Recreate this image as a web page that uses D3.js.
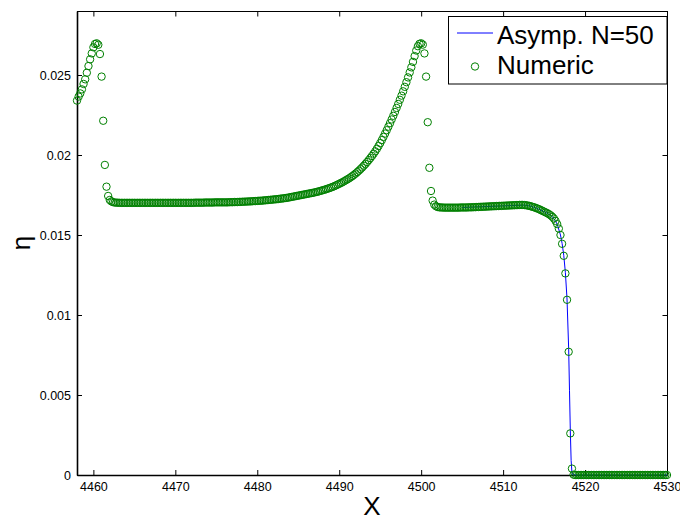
<!DOCTYPE html>
<html>
<head>
<meta charset="utf-8">
<script src="https://cdn.jsdelivr.net/npm/d3@7"></script>
<style>
  html, body { margin: 0; padding: 0; background: #fff; }
  svg { display: block; font-family: "Liberation Sans", Arial, Helvetica, sans-serif; }
</style>
</head>
<body>
<svg id="chart" width="680" height="522"></svg>
<script>
// ---------------- data ----------------
const xTicks = [4460, 4470, 4480, 4490, 4500, 4510, 4520, 4530];
const yTicks = [0, 0.005, 0.01, 0.015, 0.02, 0.025];
const yTickLabels = ["0", "0.005", "0.01", "0.015", "0.02", "0.025"];
const seriesNames = ["Asymp. N=50", "Numeric"];

// Numeric solution (circles)
const numX = [
  4458, 4458.2, 4458.4, 4458.6, 4458.8, 4459, 4459.2, 4459.4, 4459.6, 4459.8,
  4460, 4460.2, 4460.4, 4460.6, 4460.8, 4461, 4461.2, 4461.4, 4461.6, 4461.8,
  4462, 4462.2, 4462.4, 4462.6, 4462.8, 4463, 4463.2, 4463.4, 4463.6, 4463.8,
  4464, 4464.2, 4464.4, 4464.6, 4464.8, 4465, 4465.2, 4465.4, 4465.6, 4465.8,
  4466, 4466.2, 4466.4, 4466.6, 4466.8, 4467, 4467.2, 4467.4, 4467.6, 4467.8,
  4468, 4468.2, 4468.4, 4468.6, 4468.8, 4469, 4469.2, 4469.4, 4469.6, 4469.8,
  4470, 4470.2, 4470.4, 4470.6, 4470.8, 4471, 4471.2, 4471.4, 4471.6, 4471.8,
  4472, 4472.2, 4472.4, 4472.6, 4472.8, 4473, 4473.2, 4473.4, 4473.6, 4473.8,
  4474, 4474.2, 4474.4, 4474.6, 4474.8, 4475, 4475.2, 4475.4, 4475.6, 4475.8,
  4476, 4476.2, 4476.4, 4476.6, 4476.8, 4477, 4477.2, 4477.4, 4477.6, 4477.8,
  4478, 4478.2, 4478.4, 4478.6, 4478.8, 4479, 4479.2, 4479.4, 4479.6, 4479.8,
  4480, 4480.2, 4480.4, 4480.6, 4480.8, 4481, 4481.2, 4481.4, 4481.6, 4481.8,
  4482, 4482.2, 4482.4, 4482.6, 4482.8, 4483, 4483.2, 4483.4, 4483.6, 4483.8,
  4484, 4484.2, 4484.4, 4484.6, 4484.8, 4485, 4485.2, 4485.4, 4485.6, 4485.8,
  4486, 4486.2, 4486.4, 4486.6, 4486.8, 4487, 4487.2, 4487.4, 4487.6, 4487.8,
  4488, 4488.2, 4488.4, 4488.6, 4488.8, 4489, 4489.2, 4489.4, 4489.6, 4489.8,
  4490, 4490.2, 4490.4, 4490.6, 4490.8, 4491, 4491.2, 4491.4, 4491.6, 4491.8,
  4492, 4492.2, 4492.4, 4492.6, 4492.8, 4493, 4493.2, 4493.4, 4493.6, 4493.8,
  4494, 4494.2, 4494.4, 4494.6, 4494.8, 4495, 4495.2, 4495.4, 4495.6, 4495.8,
  4496, 4496.2, 4496.4, 4496.6, 4496.8, 4497, 4497.2, 4497.4, 4497.6, 4497.8,
  4498, 4498.2, 4498.4, 4498.6, 4498.8, 4499, 4499.2, 4499.4, 4499.6, 4499.8,
  4500, 4500.2, 4500.4, 4500.6, 4500.8, 4501, 4501.2, 4501.4, 4501.6, 4501.8,
  4502, 4502.2, 4502.4, 4502.6, 4502.8, 4503, 4503.2, 4503.4, 4503.6, 4503.8,
  4504, 4504.2, 4504.4, 4504.6, 4504.8, 4505, 4505.2, 4505.4, 4505.6, 4505.8,
  4506, 4506.2, 4506.4, 4506.6, 4506.8, 4507, 4507.2, 4507.4, 4507.6, 4507.8,
  4508, 4508.2, 4508.4, 4508.6, 4508.8, 4509, 4509.2, 4509.4, 4509.6, 4509.8,
  4510, 4510.2, 4510.4, 4510.6, 4510.8, 4511, 4511.2, 4511.4, 4511.6, 4511.8,
  4512, 4512.2, 4512.4, 4512.6, 4512.8, 4513, 4513.2, 4513.4, 4513.6, 4513.8,
  4514, 4514.2, 4514.4, 4514.6, 4514.8, 4515, 4515.2, 4515.4, 4515.6, 4515.8,
  4516, 4516.2, 4516.4, 4516.6, 4516.8, 4517, 4517.2, 4517.4, 4517.6, 4517.8,
  4518, 4518.2, 4518.4, 4518.6, 4518.8, 4519, 4519.2, 4519.4, 4519.6, 4519.8,
  4520, 4520.2, 4520.4, 4520.6, 4520.8, 4521, 4521.2, 4521.4, 4521.6, 4521.8,
  4522, 4522.2, 4522.4, 4522.6, 4522.8, 4523, 4523.2, 4523.4, 4523.6, 4523.8,
  4524, 4524.2, 4524.4, 4524.6, 4524.8, 4525, 4525.2, 4525.4, 4525.6, 4525.8,
  4526, 4526.2, 4526.4, 4526.6, 4526.8, 4527, 4527.2, 4527.4, 4527.6, 4527.8,
  4528, 4528.2, 4528.4, 4528.6, 4528.8, 4529, 4529.2, 4529.4, 4529.6, 4529.8,
  4530
];
const numEta = [
  0.02340, 0.02365, 0.02385, 0.02410, 0.02444, 0.02473, 0.02514, 0.02556, 0.02598, 0.02635,
  0.02673, 0.02694, 0.02698, 0.02689, 0.02631, 0.02490, 0.02214, 0.01938, 0.01802, 0.01744,
  0.01719, 0.01710, 0.01705, 0.01703, 0.01702, 0.01702, 0.01701, 0.01701, 0.01701, 0.01701,
  0.01701, 0.01701, 0.01701, 0.01701, 0.01701, 0.01701, 0.01701, 0.01701, 0.01701, 0.01701,
  0.01701, 0.01701, 0.01701, 0.01701, 0.01701, 0.01701, 0.01701, 0.01701, 0.01701, 0.01701,
  0.01701, 0.01701, 0.01701, 0.01701, 0.01701, 0.01701, 0.01701, 0.01701, 0.01701, 0.01701,
  0.01701, 0.01701, 0.01701, 0.01701, 0.01701, 0.01701, 0.01701, 0.01701, 0.01701, 0.01701,
  0.01701, 0.01701, 0.01702, 0.01702, 0.01702, 0.01702, 0.01702, 0.01702, 0.01703, 0.01703,
  0.01703, 0.01703, 0.01703, 0.01703, 0.01704, 0.01704, 0.01704, 0.01704, 0.01704, 0.01704,
  0.01704, 0.01704, 0.01704, 0.01705, 0.01705, 0.01705, 0.01706, 0.01706, 0.01706, 0.01707,
  0.01707, 0.01708, 0.01708, 0.01709, 0.01709, 0.01710, 0.01710, 0.01711, 0.01712, 0.01712,
  0.01713, 0.01714, 0.01714, 0.01715, 0.01716, 0.01717, 0.01718, 0.01719, 0.01720, 0.01721,
  0.01722, 0.01723, 0.01724, 0.01725, 0.01727, 0.01728, 0.01729, 0.01731, 0.01732, 0.01734,
  0.01736, 0.01738, 0.01740, 0.01742, 0.01744, 0.01746, 0.01748, 0.01750, 0.01752, 0.01754,
  0.01756, 0.01758, 0.01760, 0.01762, 0.01764, 0.01766, 0.01769, 0.01771, 0.01774, 0.01777,
  0.01780, 0.01783, 0.01786, 0.01790, 0.01793, 0.01797, 0.01801, 0.01805, 0.01810, 0.01815,
  0.01820, 0.01825, 0.01830, 0.01836, 0.01842, 0.01848, 0.01854, 0.01861, 0.01868, 0.01876,
  0.01884, 0.01893, 0.01902, 0.01912, 0.01922, 0.01933, 0.01944, 0.01956, 0.01968, 0.01981,
  0.01994, 0.02008, 0.02023, 0.02039, 0.02056, 0.02074, 0.02093, 0.02113, 0.02134, 0.02155,
  0.02177, 0.02199, 0.02222, 0.02245, 0.02269, 0.02294, 0.02319, 0.02345, 0.02371, 0.02398,
  0.02426, 0.02455, 0.02485, 0.02516, 0.02548, 0.02582, 0.02618, 0.02653, 0.02680, 0.02695,
  0.02698, 0.02690, 0.02635, 0.02490, 0.02205, 0.01920, 0.01775, 0.01715, 0.01690, 0.01680,
  0.01675, 0.01673, 0.01672, 0.01672, 0.01671, 0.01671, 0.01671, 0.01671, 0.01671, 0.01671,
  0.01671, 0.01671, 0.01671, 0.01671, 0.01672, 0.01672, 0.01672, 0.01672, 0.01672, 0.01673,
  0.01673, 0.01673, 0.01674, 0.01674, 0.01675, 0.01675, 0.01676, 0.01676, 0.01677, 0.01677,
  0.01678, 0.01678, 0.01679, 0.01679, 0.01680, 0.01680, 0.01681, 0.01681, 0.01682, 0.01682,
  0.01683, 0.01683, 0.01684, 0.01684, 0.01685, 0.01685, 0.01686, 0.01686, 0.01687, 0.01687,
  0.01688, 0.01688, 0.01688, 0.01687, 0.01686, 0.01684, 0.01682, 0.01679, 0.01676, 0.01673,
  0.01669, 0.01665, 0.01661, 0.01656, 0.01651, 0.01646, 0.01641, 0.01636, 0.01630, 0.01623,
  0.01614, 0.01603, 0.01588, 0.01568, 0.01540, 0.01500, 0.01445, 0.01370, 0.01260, 0.01095,
  0.00770, 0.00260, 0.00040, 0.00002, 0, 0, 0, 0, 0, 0,
  0, 0, 0, 0, 0, 0, 0, 0, 0, 0,
  0, 0, 0, 0, 0, 0, 0, 0, 0, 0,
  0, 0, 0, 0, 0, 0, 0, 0, 0, 0,
  0, 0, 0, 0, 0, 0, 0, 0, 0, 0,
  0, 0, 0, 0, 0, 0, 0, 0, 0, 0,
  0
];

// Asymptotic solution N=50 (blue line)
const asympX = [4505, 4508, 4511, 4512.6, 4513.4, 4514, 4514.6, 4515.2, 4515.8, 4516.2,
  4516.6, 4517, 4517.2, 4517.4, 4517.6, 4517.8, 4518, 4518.1, 4518.2, 4518.3,
  4518.4, 4518.5, 4519, 4530];
const asympEta = [0.01672, 0.01678, 0.01684, 0.01687, 0.01680, 0.01669, 0.01656, 0.01641, 0.01623, 0.01603,
  0.01568, 0.01500, 0.01447, 0.01373, 0.01265, 0.01100, 0.00790, 0.00530, 0.00280, 0.00090,
  0.00015, 0.00002, 0, 0];

// ---------------- drawing ----------------
const svg = d3.select("#chart");
const L = 77, R = 667, T = 11, B = 475;
const x = d3.scaleLinear().domain([4458, 4530]).range([L, R]);
const y = d3.scaleLinear().domain([0, 0.029]).range([B, T]);
const font = "12.5px";

// frame: top & right (thin)
svg.append("line").attr("x1", L).attr("x2", R).attr("y1", T + 0.5).attr("y2", T + 0.5)
  .attr("stroke", "#000").attr("stroke-width", 1);
svg.append("line").attr("x1", R + 0.5).attr("x2", R + 0.5).attr("y1", T).attr("y2", B)
  .attr("stroke", "#000").attr("stroke-width", 1);

// top / right ticks (inward, no labels)
const topAxis = svg.append("g").attr("transform", `translate(0,${T + 0.5})`)
  .call(d3.axisTop(x).tickValues(xTicks).tickSizeInner(-5).tickSizeOuter(0).tickFormat(""));
const rightAxis = svg.append("g").attr("transform", `translate(${R + 0.5},0)`)
  .call(d3.axisRight(y).tickValues(yTicks).tickSizeInner(-5).tickSizeOuter(0).tickFormat(""));
[topAxis, rightAxis].forEach(g => { g.select(".domain").remove(); g.selectAll("line").attr("stroke", "#000"); });

// bottom axis
const xAxis = svg.append("g").attr("transform", `translate(0,${B})`)
  .call(d3.axisBottom(x).tickValues(xTicks).tickSizeInner(-5).tickSizeOuter(0).tickPadding(7)
    .tickFormat(d3.format("d")));
xAxis.select(".domain").attr("stroke", "#000").attr("stroke-width", 1.6);
xAxis.selectAll("line").attr("stroke", "#000");
xAxis.selectAll("text").attr("fill", "#000").style("font-size", font)
  .style("font-family", "'Liberation Sans', Arial, sans-serif");

// left axis
const yAxis = svg.append("g").attr("transform", `translate(${L},0)`)
  .call(d3.axisLeft(y).tickValues(yTicks).tickSizeInner(-5).tickSizeOuter(0).tickPadding(6)
    .tickFormat((d, i) => yTickLabels[i]));
yAxis.select(".domain").attr("stroke", "#000").attr("stroke-width", 1.6);
yAxis.selectAll("line").attr("stroke", "#000");
yAxis.selectAll("text").attr("fill", "#000").style("font-size", font)
  .style("font-family", "'Liberation Sans', Arial, sans-serif");

// axis titles
svg.append("text").attr("x", (L + R) / 2).attr("y", 515).attr("text-anchor", "middle")
  .style("font-size", "26px").attr("fill", "#000").text("X");
svg.append("text").attr("transform", `translate(30,${(T + B) / 2}) rotate(-90)`)
  .attr("text-anchor", "middle").style("font-size", "26px").attr("fill", "#000").text("η");

// asymptotic line
const asymp = asympX.map((v, i) => ({ x: v, y: asympEta[i] }));
svg.append("path").datum(asymp)
  .attr("fill", "none").attr("stroke", "#0000ff").attr("stroke-width", 1)
  .attr("d", d3.line().x(d => x(d.x)).y(d => y(d.y)));

// numeric circles
const num = numX.map((v, i) => ({ x: v, y: numEta[i] }));
svg.append("g").selectAll("circle").data(num).join("circle")
  .attr("cx", d => x(d.x)).attr("cy", d => y(d.y)).attr("r", 3.7)
  .attr("fill", "none").attr("stroke", "#008000").attr("stroke-width", 1);

// legend
const lg = svg.append("g");
lg.append("rect").attr("x", 448.5).attr("y", 16.5).attr("width", 218.5).attr("height", 67.5)
  .attr("fill", "#fff").attr("stroke", "#000").attr("stroke-width", 1);
lg.append("line").attr("x1", 457).attr("x2", 493).attr("y1", 33).attr("y2", 33)
  .attr("stroke", "#0000ff").attr("stroke-width", 1);
lg.append("circle").attr("cx", 475).attr("cy", 66.5).attr("r", 3.7)
  .attr("fill", "none").attr("stroke", "#008000").attr("stroke-width", 1);
lg.append("text").attr("x", 497).attr("y", 44).style("font-size", "26px").attr("fill", "#000").text(seriesNames[0]);
lg.append("text").attr("x", 497).attr("y", 74).style("font-size", "26px").attr("fill", "#000").text(seriesNames[1]);
</script>
</body>
</html>
